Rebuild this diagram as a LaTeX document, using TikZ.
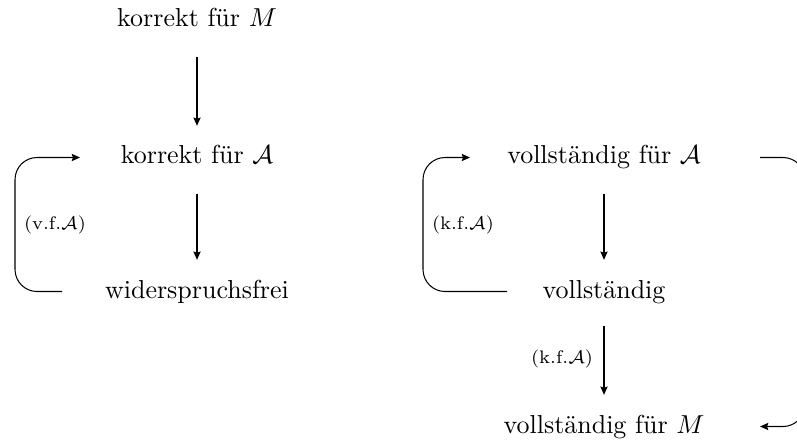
\documentclass[tikz,border=0pt]{standalone}
\usetikzlibrary{arrows.meta,calc}
\begin{document}
\begin{tikzpicture}[x=0.385pt,y=-0.385pt,
  lbl/.style={text height=7pt,text depth=2pt,inner sep=0pt,anchor=base},
  small/.style={font=\scriptsize,inner sep=0pt},
  arr/.style={-{Stealth[length=3.2pt,width=2.8pt,inset=0.5pt]},line width=0.4pt},
  varr/.style={arr,shorten <=9.5pt,shorten >=7.5pt}]
\useasboundingbox (0,0) rectangle (797,442);
% nodes (base points in pixel coordinates)
\node[lbl] (kM) at (197,27) {korrekt f\"ur $M$};
\node[lbl] (kA) at (197,164) {korrekt f\"ur $\mathcal{A}$};
\node[lbl] (wf) at (197,298) {widerspruchsfrei};
\node[lbl] (vA) at (604,164) {vollst\"andig f\"ur $\mathcal{A}$};
\node[lbl] (v)  at (604,298) {vollst\"andig};
\node[lbl] (vM) at (604,433) {vollst\"andig f\"ur $M$};
% vertical arrows
\draw[varr] (kM) -- (kA);
\draw[varr] (kA) -- (wf);
\draw[varr] (vA) -- (v);
\draw[varr,shorten <=8.5pt] (v) -- (vM) node[small,midway,left=4pt] (l3) {(k.f.$\mathcal{A}$)};
% left loop
\draw[arr,rounded corners=8.5pt] (62,0 |- wf.center) -| (15,225) |- (80,0 |- kA.center);
\node[small] (l1) at (55,225) {(v.f.$\mathcal{A}$)};
% middle loop
\draw[arr,rounded corners=8.5pt] (507,0 |- v.center) -| (423,225) |- (470,0 |- vA.center);
\node[small] (l2) at (463,225) {(k.f.$\mathcal{A}$)};
% right loop (runs off the page)
\draw[arr,rounded corners=8.5pt] (760,0 |- vA.center) -| (805,300) |- (760,0 |- vM.center);
\end{tikzpicture}
\end{document}
